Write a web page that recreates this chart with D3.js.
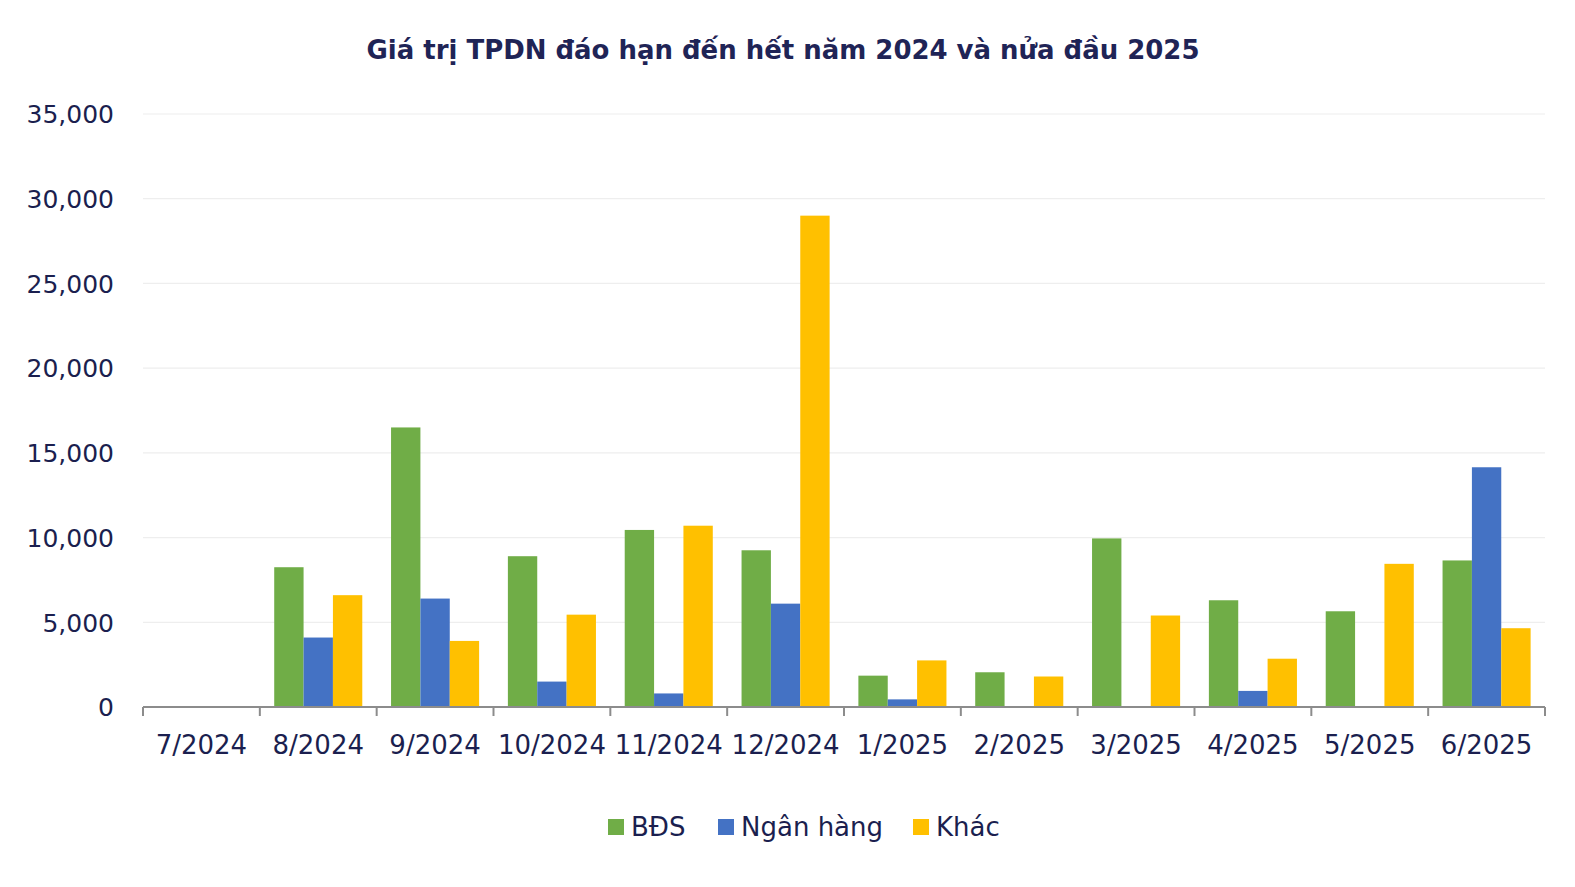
<!DOCTYPE html>
<html><head><meta charset="utf-8">
<script src="https://cdn.jsdelivr.net/npm/d3@7"></script>
<style>body{margin:0;background:#fff;} svg{display:block;}</style>
</head><body>
<svg id="c" width="1575" height="887"></svg>
<script>
const categories = ["7/2024","8/2024","9/2024","10/2024","11/2024","12/2024","1/2025","2/2025","3/2025","4/2025","5/2025","6/2025"];
const seriesNames = ["BĐS","Ngân hàng","Khác"];
const bds    = [0, 8250, 16500, 8900, 10450, 9250, 1850, 2050, 9950, 6300, 5650, 8650];
const nganHang = [0, 4100, 6400, 1500, 800, 6100, 450, 0, 0, 950, 0, 14150];
const khac   = [0, 6600, 3900, 5450, 10700, 29000, 2750, 1800, 5400, 2850, 8450, 4650];
const yTicks = [0, 5000, 10000, 15000, 20000, 25000, 30000, 35000];
const colors = ["#70AD47","#4472C4","#FFC000"];
const textColor = "#1b1f4f";

const svg = d3.select("#c");
const m = {left:143, right:1545, top:114, bottom:707};
const x = d3.scaleBand().domain(categories).range([m.left, m.right]).paddingInner(0).paddingOuter(0);
const xi = d3.scaleBand().domain(seriesNames).range([0, x.bandwidth()]).paddingOuter(0.49).paddingInner(0);
const y = d3.scaleLinear().domain([0, 35000]).range([m.bottom, m.top]);

// gridlines
svg.append("g").selectAll("line").data(yTicks.filter(d=>d>0)).join("line")
  .attr("x1", m.left).attr("x2", m.right)
  .attr("y1", d=>y(d)).attr("y2", d=>y(d))
  .attr("stroke", "#eeeeee").attr("stroke-width", 1.2);

// y axis labels
const yAxis = d3.axisLeft(y).tickValues(yTicks).tickSize(0).tickPadding(0).tickFormat(d3.format(","));
const ya = svg.append("g").attr("transform", `translate(114,0)`).call(yAxis);
ya.select(".domain").remove();
ya.selectAll("text").attr("font-family","DejaVu Sans").attr("font-size",25).attr("fill",textColor).attr("dy","0.35em");

// bars
const data = categories.map((c,i)=>({cat:c, vals:[bds[i], nganHang[i], khac[i]]}));
const groups = svg.append("g").selectAll("g").data(data).join("g")
  .attr("transform", d=>`translate(${x(d.cat)},0)`);
groups.selectAll("rect").data(d=>d.vals.map((v,j)=>({name:seriesNames[j], v, j})).filter(e=>e.v>0)).join("rect")
  .attr("x", e=>xi(e.name)).attr("width", xi.bandwidth())
  .attr("y", e=>y(e.v)).attr("height", e=>y(0)-y(e.v))
  .attr("fill", e=>colors[e.j]);

// x axis
const xAxis = d3.axisBottom(x).tickSize(0).tickPadding(0);
const xa = svg.append("g").attr("transform", `translate(0,${m.bottom})`).call(xAxis);
xa.select(".domain").attr("stroke","#8c8c8c").attr("stroke-width",2).attr("d", `M${m.left},0H${m.right}`);
xa.selectAll("text").attr("font-family","DejaVu Sans").attr("font-size",26).attr("fill",textColor).attr("y",38).attr("dy","0.35em");
// boundary tick marks
const bounds = categories.map(c=>x(c)).concat([m.right]);
svg.append("g").selectAll("line").data(bounds).join("line")
  .attr("x1", d=>d).attr("x2", d=>d).attr("y1", m.bottom).attr("y2", m.bottom+9)
  .attr("stroke","#8c8c8c").attr("stroke-width",2);

// title
svg.append("text").attr("x", 783).attr("y", 59).attr("text-anchor","middle")
  .attr("font-family","DejaVu Sans").attr("font-weight","bold").attr("font-size",27)
  .attr("fill","#1f2456").attr("textLength",833).attr("lengthAdjust","spacingAndGlyphs")
  .text("Giá trị TPDN đáo hạn đến hết năm 2024 và nửa đầu 2025");

// legend
const legendX = [608, 718, 913];
const lg = svg.append("g").selectAll("g").data(seriesNames).join("g")
  .attr("transform",(d,i)=>`translate(${legendX[i]},827)`);
lg.append("rect").attr("x",0).attr("y",-8).attr("width",16).attr("height",16).attr("fill",(d,i)=>colors[i]);
lg.append("text").attr("x",23).attr("y",0).attr("dy","0.36em")
  .attr("font-family","DejaVu Sans").attr("font-size",26).attr("fill",textColor).text(d=>d);
</script>
</body></html>
